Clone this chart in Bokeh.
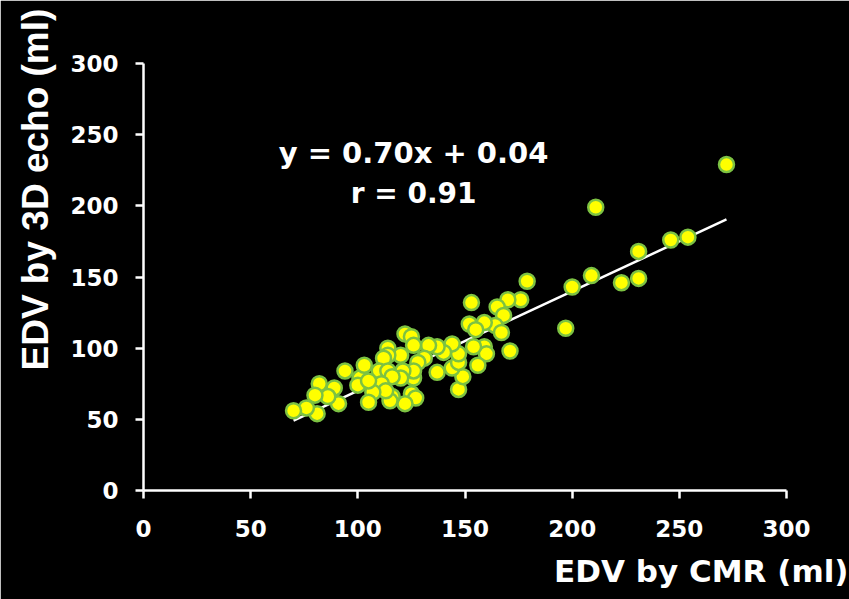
from bokeh.plotting import figure
from bokeh.models import Range1d, Label, FixedTicker, Title
from bokeh.embed import file_html
from bokeh.resources import INLINE

# End-diastolic volume: CMR (x) vs 3D echo (y), ml
cmr = [272, 211, 179, 200, 209, 197, 223, 231, 231, 246, 254,
       176, 170, 165, 168, 164, 167,
       153, 152, 159, 155, 171, 159, 160, 154, 156, 147, 149, 144, 147, 147,
       144, 140, 137, 133, 137, 131, 128, 126, 126, 125, 127, 122, 122, 125,
       126, 120, 121, 120, 116, 115, 114, 114, 112, 110, 114, 116, 111, 113,
       107, 105, 101, 103, 100, 105, 94, 89, 91, 86, 82, 80, 81, 76, 70]
echo = [229, 199, 147, 143, 151, 114, 146, 149, 168, 176, 178,
        134, 134, 129, 123, 116, 111,
        132, 117, 118, 113, 98, 101, 96, 101, 88, 71, 80, 86, 90, 96,
        103, 97, 101, 102, 83, 93, 90, 79, 84, 68, 65, 61, 110, 108,
        102, 95, 84, 79, 66, 63, 100, 95, 93, 84, 84, 80, 75, 70,
        69, 62, 79, 88, 74, 77, 84, 72, 61, 66, 75, 67, 54, 58, 56]

slope = 0.70
intercept = 0.04
r_value = 0.91
fit_x = [70, 272]
fit_y = [slope * v + intercept for v in fit_x]

ticks = [0, 50, 100, 150, 200, 250, 300]
x_title = "EDV by CMR (ml)"
y_title = "EDV by 3D echo (ml)"
WIDE = "DejaVu Sans"
NARROW = "Liberation Sans"

p = figure(width=849, height=599, output_backend="svg", toolbar_location=None,
           x_range=Range1d(0, 300), y_range=Range1d(0, 300),
           min_border_left=143, min_border_right=63,
           min_border_top=63, min_border_bottom=109)
p.background_fill_color = "black"
p.border_fill_color = "black"
# black frame outline hides the seam between frame and border fills
p.outline_line_color = "black"
p.outline_line_width = 3
p.grid.visible = False

for ax in (p.xaxis[0], p.yaxis[0]):
    ax.ticker = FixedTicker(ticks=ticks)
    ax.axis_line_color = "white"
    ax.axis_line_width = 2.5
    ax.major_tick_line_color = "white"
    ax.major_tick_line_width = 2.5
    ax.major_tick_out = 8
    ax.major_tick_in = 0
    ax.minor_tick_line_color = None
    ax.major_label_text_color = "white"
    ax.major_label_text_font = WIDE
    ax.major_label_text_font_style = "bold"
    ax.major_label_text_font_size = "23px"
    ax.axis_label = None
p.xaxis[0].major_label_standoff = 21
p.yaxis[0].major_label_standoff = 17

p.line(fit_x, fit_y, line_color="white", line_width=2.5)
p.scatter(cmr, echo, size=15, fill_color="#ffff00", line_color="#7cc242",
          line_width=2.5)

p.add_layout(Label(x=126, y=237, text=f"y = {slope:.2f}x + {intercept:.2f}",
                   text_align="center", text_baseline="middle",
                   text_color="white", text_font=WIDE, text_font_style="bold",
                   text_font_size="29px"))
p.add_layout(Label(x=126, y=209, text=f"r = {r_value:.2f}",
                   text_align="center", text_baseline="middle",
                   text_color="white", text_font=WIDE, text_font_style="bold",
                   text_font_size="28px"))

# axis titles as side panels so they can sit outside the frame
p.add_layout(Title(text=x_title, align="right", offset=-62, standoff=22,
                   text_color="white", text_font=WIDE,
                   text_font_style="bold", text_font_size="31px"), "below")
p.add_layout(Title(text=y_title, align="left", offset=120, standoff=24,
                   text_color="white", text_font=NARROW,
                   text_font_style="bold", text_font_size="37px"), "left")

open("out.html", "w").write(file_html(p, INLINE))
